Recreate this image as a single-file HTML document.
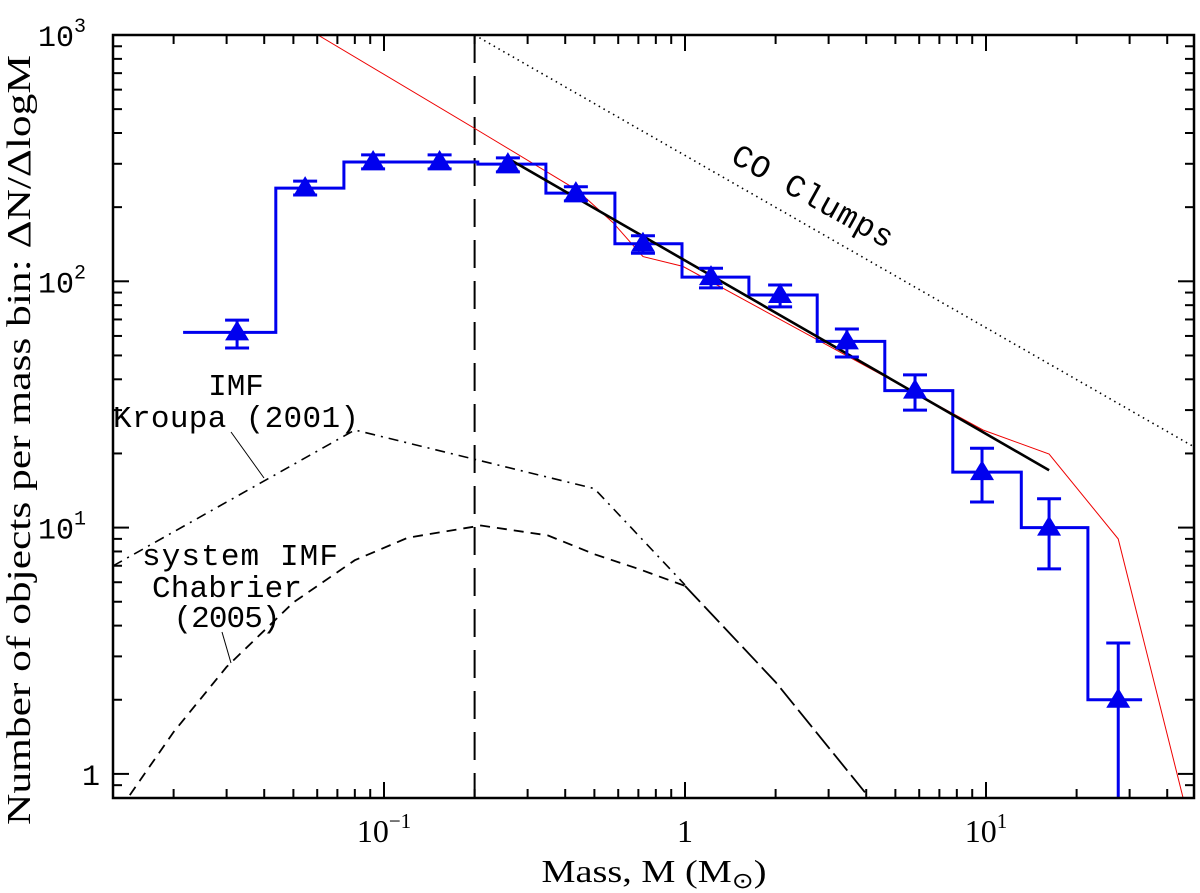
<!DOCTYPE html>
<html><head><meta charset="utf-8"><style>
html,body{margin:0;padding:0;background:#fff;}
svg{display:block;}
text{font-family:"Liberation Serif",serif;fill:#000;}
.mono{font-family:"Liberation Mono",monospace;}
</style></head><body>
<svg id="chart" width="1200" height="893" viewBox="0 0 1200 893" xmlns="http://www.w3.org/2000/svg">
<defs><clipPath id="plotclip"><rect x="113" y="35" width="1081" height="763"/></clipPath></defs>
<g id="marks" clip-path="url(#plotclip)"></g>
<g id="axes"></g>
<text class="mono" x="236" y="395" font-size="31" text-anchor="middle">IMF</text>
<text class="mono" x="236" y="427" font-size="31" text-anchor="middle" textLength="246">Kroupa (2001)</text>
<line x1="231" y1="432" x2="264" y2="478" stroke="#000" stroke-width="1"/>
<text class="mono" x="240" y="565" font-size="31" text-anchor="middle" textLength="196">system IMF</text>
<text class="mono" x="227" y="597" font-size="31" text-anchor="middle" textLength="150">Chabrier</text>
<text class="mono" x="227" y="627" font-size="31" text-anchor="middle" textLength="107">(2005)</text>
<line x1="222" y1="632" x2="231" y2="663" stroke="#000" stroke-width="1"/>
<text class="mono" x="0" y="0" font-size="32" text-anchor="middle" textLength="180" transform="translate(808,205) rotate(29)">CO Clumps</text>
<text x="30" y="440" font-size="34" text-anchor="middle" textLength="770" lengthAdjust="spacingAndGlyphs" transform="rotate(-90 30 440)">Number of objects per mass bin: ΔN/ΔlogM</text>
<text x="654" y="882" font-size="32" text-anchor="middle" textLength="225" lengthAdjust="spacingAndGlyphs">Mass, M (M<tspan font-size="22" dy="6">⊙</tspan><tspan dy="-6">)</tspan></text>
</svg>
<script>
// ---- data ----
const binEdges = [0.0215,0.0437,0.0736,0.123,0.205,0.345,0.585,0.977,1.63,2.75,4.61,7.76,13.1,21.8,33.0];
const binValues = [62,239,305,305,299,228,142,104,88,57,36,16.8,10,2.0];
const pointMass = [0.0325,0.0547,0.092,0.153,0.258,0.434,0.725,1.22,2.07,3.45,5.81,9.70,16.2,27.5];
const pointValue = [62,239,305,305,299,228,142,104,88,57,36,16.8,10,2.0];
const errLow = [53.6,224,286,286,278,212,130,94,78.7,49.3,30,12.7,6.8,0.5];
const errHigh = [69.6,255,326,326,317,242,153,113,96.6,64,41.7,21,13.1,3.4];
const redMass = [0.0603,0.199,0.437,0.577,0.725,0.984,9.77,16.2,27.5,45.1];
const redValue = [1000,419,235,173,126,115,24.9,19.9,9.0,0.805];
const fitMass = [0.256,16.2];
const fitValue = [317,17.1];
const coMass = [0.2,50];
const coValue = [1000,21];
const kroupaMass = [0.0126,0.08,0.5,1.0];
const kroupaValue = [7.0,24.9,14.4,5.85];
const chabMass = [0.0143,0.02,0.03,0.05,0.08,0.12,0.21,0.35,0.5,0.7,1.0];
const chabValue = [0.82,1.48,2.72,4.97,7.37,9.1,10.2,9.3,7.8,6.8,5.8];
const tailMass = [1.0,2.0,4.1];
const tailValue = [5.8,2.36,0.8];
const completenessMass = 0.2;
const xTickVals = [0.1,1,10];
const xTickLabels = ["10","1","10"];
const xTickSup = ["−1","","1"];
const yTickVals = [1000,100,10,1];
const yTickLabels = ["10","10","10","1"];
const yTickSup = ["3","2","1",""];
// ---- scales ----
const X0=384, DX=301, Y0=35, DY=246.3;
function sx(m){return X0+(Math.log10(m)+1)*DX;}
function sy(v){return Y0+(3-Math.log10(v))*DY;}
const NS="http://www.w3.org/2000/svg";
const marks=document.getElementById('marks');
const axes=document.getElementById('axes');
function mk(tag,attrs,parent){const e=document.createElementNS(NS,tag);for(const k in attrs)e.setAttribute(k,attrs[k]);parent.appendChild(e);return e;}
function poly(ms,vs,style,name){
  const pts=ms.map((m,i)=>sx(m).toFixed(1)+','+sy(vs[i]).toFixed(1)).join(' ');
  const e=mk('polyline',Object.assign({points:pts,fill:'none'},style),marks);
  
  
  return e;
}
poly(coMass,coValue,{stroke:'#000','stroke-width':1.6,'stroke-dasharray':'1.5 4'},'co-clumps-line');
const cl=mk('line',{x1:sx(completenessMass),x2:sx(completenessMass),y1:35,y2:798,stroke:'#000','stroke-width':2,'stroke-dasharray':'28 13'},marks);


poly(kroupaMass,kroupaValue,{stroke:'#000','stroke-width':1.6,'stroke-dasharray':'10 6 2 6'},'kroupa-imf-curve');
poly(chabMass,chabValue,{stroke:'#000','stroke-width':1.8,'stroke-dasharray':'10 7'},'chabrier-imf-curve');
poly(tailMass,tailValue,{stroke:'#000','stroke-width':1.8,'stroke-dasharray':'22 6'},'imf-high-mass-tail');
poly(redMass,redValue,{stroke:'#e00','stroke-width':1},'red-model-line');
let d='M'+sx(binEdges[0]).toFixed(1)+','+sy(binValues[0]).toFixed(1);
for(let i=0;i<binValues.length;i++){
  d+=' L'+sx(binEdges[i]).toFixed(1)+','+sy(binValues[i]).toFixed(1);
  d+=' L'+sx(binEdges[i+1]).toFixed(1)+','+sy(binValues[i]).toFixed(1);
}
const hist=mk('path',{d:d,fill:'none',stroke:'#0000ee','stroke-width':3},marks);


poly(fitMass,fitValue,{stroke:'#000','stroke-width':2.6},'power-law-fit-line');
for(let i=0;i<pointMass.length;i++){
  const x=sx(pointMass[i]),y=sy(pointValue[i]),yl=sy(errLow[i]),yh=sy(errHigh[i]);
  const g=mk('g',{},marks);
  
  
  mk('line',{x1:x,x2:x,y1:yh,y2:yl,stroke:'#0000ee','stroke-width':3},g);
  mk('line',{x1:x-12,x2:x+12,y1:yh,y2:yh,stroke:'#0000ee','stroke-width':3},g);
  if(errLow[i]>0.8) mk('line',{x1:x-12,x2:x+12,y1:yl,y2:yl,stroke:'#0000ee','stroke-width':3},g);
  mk('polygon',{points:(x-12)+','+(y+8)+' '+(x+12)+','+(y+8)+' '+x+','+(y-12),fill:'#0000ee'},g);
}
const fr=mk('rect',{x:113,y:35,width:1081,height:763,fill:'none',stroke:'#000','stroke-width':2.5},axes);


for(let e=-2;e<=1;e++){for(let k=1;k<10;k++){
  const m=k*Math.pow(10,e); const x=sx(m); if(x<114||x>1193) continue;
  const len=(k===1)?16:9;
  mk('line',{x1:x,x2:x,y1:798,y2:798-len,stroke:'#000','stroke-width':2},axes);
  mk('line',{x1:x,x2:x,y1:35,y2:35+len,stroke:'#000','stroke-width':2},axes);
}}
for(let e=-1;e<=3;e++){for(let k=1;k<10;k++){
  const v=k*Math.pow(10,e); const y=sy(v); if(y<36||y>797) continue;
  const len=(k===1)?16:9;
  mk('line',{x1:113,x2:113+len,y1:y,y2:y,stroke:'#000','stroke-width':2},axes);
  mk('line',{x1:1194,x2:1194-len,y1:y,y2:y,stroke:'#000','stroke-width':2},axes);
}}
for(let i=0;i<xTickVals.length;i++){
  const t=mk('text',{x:sx(xTickVals[i]),y:842,'font-size':32,'text-anchor':'middle'},axes);
  
  
  t.appendChild(document.createTextNode(xTickLabels[i]));
  if(xTickSup[i]){const s=mk('tspan',{dy:-14,'font-size':21},t);s.textContent=xTickSup[i];}
}
for(let i=0;i<yTickVals.length;i++){
  const t=mk('text',{x:yTickSup[i]?86:100,y:sy(yTickVals[i])+11,'font-size':30,'text-anchor':'end',class:'mono'},axes);
  
  
  t.appendChild(document.createTextNode(yTickLabels[i]));
  if(yTickSup[i]){const s=mk('tspan',{dy:-14,'font-size':20},t);s.textContent=yTickSup[i];}
}
</script>
</body></html>
